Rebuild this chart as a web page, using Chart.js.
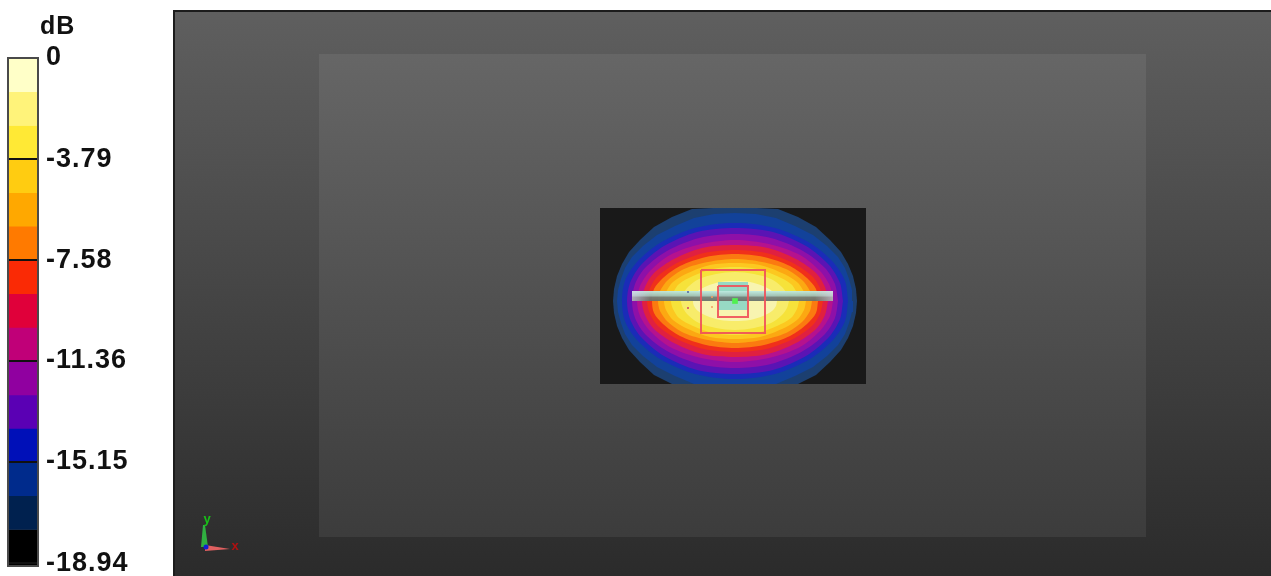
<!DOCTYPE html>
<html>
<head>
<meta charset="utf-8">
<style>
  html, body { margin: 0; padding: 0; background: #fff; overflow: hidden; }
  canvas { position: absolute; display: block; }
  #scale { left: 0; top: 0; }
  #scene { left: 173px; top: 10px; }
</style>
</head>
<body>
<canvas id="scale" width="173" height="576"></canvas>
<canvas id="scene" width="1098" height="566"></canvas>
<script src="https://cdn.jsdelivr.net/npm/chart.js@4"></script>
<script>
// colour scale, dB
const bandEdges = [0, -1.26, -2.53, -3.79, -5.05, -6.31, -7.58, -8.84, -10.10, -11.36, -12.63, -13.89, -15.15, -16.41, -17.68, -19.05];
const bandColors = ["#ffffc8", "#fff37a", "#ffe935", "#ffcc11", "#ffa800", "#ff7a00", "#fa2a05", "#e0003a", "#c00078", "#9000a0", "#5a00b4", "#0010b8", "#002b8c", "#00214f", "#000000"];
const tickValues = [0, -3.79, -7.58, -11.36, -15.15, -18.94];
const tickLabels = ["0", "-3.79", "-7.58", "-11.36", "-15.15", "-18.94"];

// contour quadrants as [dx, dy] from the centre, outermost first
const contourColors = ["#1c3f70", "#12429a", "#1a2cb8", "#5a14b4", "#8e10a8", "#b5128e", "#e02040", "#f0301a", "#fb7a10", "#fca812", "#fcc820", "#f6e23a", "#f8ec6a", "#f8f4b0"];
const contourQuads = [
  [[122, 0], [121, 12], [118, 25], [113, 37], [106, 49], [95, 61], [81, 74], [63, 84], [43, 92], [22, 96], [0, 98]],
  [[118, 0], [117, 11], [114, 22], [110, 33], [103, 44], [92, 55], [78, 66], [60, 75], [41, 83], [21, 87], [0, 88]],
  [[113, 0], [110, 20], [98, 39], [75, 58], [40, 73], [0, 78]],
  [[108, 0], [105, 18], [94, 36], [71, 55], [38, 69], [0, 73]],
  [[103, 0], [100, 17], [90, 33], [68, 50], [36, 63], [0, 67]],
  [[98, 0], [95, 15], [85, 30], [65, 46], [34, 57], [0, 61]],
  [[93, 0], [90, 14], [81, 28], [61, 42], [33, 53], [0, 56]],
  [[88, 0], [85, 13], [77, 25], [58, 38], [31, 48], [0, 51]],
  [[83, 0], [81, 12], [72, 23], [55, 35], [29, 44], [0, 47]],
  [[77, 0], [75, 10], [67, 21], [51, 32], [27, 39], [0, 42]],
  [[71, 0], [69, 9], [62, 19], [47, 28], [25, 36], [0, 38]],
  [[64, 0], [62, 8], [56, 17], [42, 25], [22, 32], [0, 34]],
  [[54, 0], [52, 7], [47, 14], [36, 22], [19, 27], [0, 29]],
  [[42, 0], [41, 5], [37, 10], [28, 15], [15, 19], [0, 20]],
];
const contourCentre = [735, 301];

// scene rectangles as [left, top, right, bottom]
const sceneRect = [173, 10, 1271, 576];
const panelRect = [319, 54, 1146, 537];
const fieldRect = [600, 208, 866, 384];
const barRect = [632, 291, 833, 301];
const barCaps = [[632, 291, 650, 301], [815, 291, 833, 301]];
const tealRect = [718, 282, 748, 310];
const redRects = [[701, 270, 765, 333], [718, 286, 748, 317]];
const probePoints = [[688, 292], [688, 308], [712, 297], [712, 307]];
const probeColors = ["#5060a0", "#d04060", "#f0a060", "#f0a060"];
const feedPoint = [735, 301];

// axis triad
const triadGreen = [[203, 525], [205, 525], [208, 547], [201, 547]];
const triadRed = [[205, 545], [230, 549], [205, 551]];
const triadBlue = [206, 547];
const triadLabels = [["y", 207, 519, "#18c018"], ["x", 235, 546, "#b01010"]];

Chart.defaults.animation = false;
Chart.defaults.font.family = "'Liberation Sans Narrow', 'Liberation Sans', sans-serif";

function rectPoints(r) {
  return [
    { x: r[0], y: r[1] }, { x: r[2], y: r[1] },
    { x: r[2], y: r[3] }, { x: r[0], y: r[3] }, { x: r[0], y: r[1] },
  ];
}

// mirror a quadrant to a whole loop, cut at the field box like the solver plot is
function contourPoints(quad) {
  let pts = [];
  quad.forEach((p) => pts.push([p[0], -p[1]]));
  quad.slice(0, -1).reverse().forEach((p) => pts.push([-p[0], -p[1]]));
  quad.slice(1).forEach((p) => pts.push([-p[0], p[1]]));
  quad.slice(0, -1).reverse().forEach((p) => pts.push([p[0], p[1]]));
  return pts.map((p) => ({
    x: contourCentre[0] + p[0],
    y: Math.min(fieldRect[3], Math.max(fieldRect[1], contourCentre[1] + p[1])),
  }));
}

function vGradient(chart, top, bottom, stops) {
  const y = chart.scales.y;
  const g = chart.ctx.createLinearGradient(0, y.getPixelForValue(top), 0, y.getPixelForValue(bottom));
  stops.forEach((s) => g.addColorStop(s[0], s[1]));
  return g;
}

function hGradient(chart, left, right, stops) {
  const x = chart.scales.x;
  const g = chart.ctx.createLinearGradient(x.getPixelForValue(left), 0, x.getPixelForValue(right), 0);
  stops.forEach((s) => g.addColorStop(s[0], s[1]));
  return g;
}

// fills a dataset's own line as a closed shape
const closedFill = {
  id: "closedFill",
  beforeDatasetDraw(chart, args) {
    const fill = chart.data.datasets[args.index].closedFill;
    if (!fill) return;
    const ctx = chart.ctx;
    const line = args.meta.dataset;
    line.updateControlPoints(chart.chartArea, "x");
    ctx.save();
    ctx.beginPath();
    line.path(ctx);
    ctx.closePath();
    ctx.fillStyle = typeof fill === "function" ? fill(chart) : fill;
    ctx.fill();
    ctx.restore();
  },
};

const triadText = {
  id: "triadText",
  afterDatasetsDraw(chart) {
    const ctx = chart.ctx;
    ctx.save();
    ctx.font = "bold 13px 'Liberation Sans', sans-serif";
    ctx.textAlign = "center";
    ctx.textBaseline = "middle";
    triadLabels.forEach((l) => {
      ctx.fillStyle = l[3];
      ctx.fillText(l[0], chart.scales.x.getPixelForValue(l[1]), chart.scales.y.getPixelForValue(l[2]));
    });
    ctx.restore();
  },
};

const scaleFrame = {
  id: "scaleFrame",
  beforeDraw(chart) {
    chart.ctx.letterSpacing = "1px";
  },
  afterDraw(chart) {
    const ctx = chart.ctx;
    const a = chart.chartArea;
    ctx.save();
    ctx.strokeStyle = "#4a4a4a";
    ctx.lineWidth = 2;
    ctx.strokeRect(a.left, a.top, a.right - a.left, a.bottom - a.top);
    ctx.fillStyle = "#111";
    ctx.font = "bold 25px 'Liberation Sans Narrow', 'Liberation Sans', sans-serif";
    ctx.textBaseline = "middle";
    ctx.fillText("dB", a.right + 2, a.top - 31);
    ctx.restore();
  },
};

new Chart(document.getElementById("scale"), {
  type: "bar",
  data: {
    labels: ["dB"],
    datasets: bandColors.map((color, i) => ({
      data: [[bandEdges[i + 1], bandEdges[i]]],
      backgroundColor: color,
      barPercentage: 1,
      categoryPercentage: 1,
      grouped: false,
    })),
  },
  options: {
    responsive: false,
    layout: { autoPadding: false, padding: { left: 8, top: 58, bottom: 10 } },
    plugins: { legend: { display: false }, tooltip: { enabled: false } },
    scales: {
      x: { display: false },
      y: {
        position: "right",
        min: bandEdges[bandEdges.length - 1],
        max: 0,
        afterBuildTicks: (axis) => { axis.ticks = tickValues.map((value) => ({ value })); },
        afterFit: (axis) => { axis.width = 135; axis.paddingTop = 0; axis.paddingBottom = 0; },
        border: { display: false },
        grid: { color: "#111", lineWidth: 2, drawTicks: false, z: 1 },
        ticks: {
          autoSkip: false,
          padding: 8,
          color: "#111",
          font: { size: 27, weight: "bold" },
          callback: (value, i) => tickLabels[i],
        },
      },
    },
  },
  plugins: [scaleFrame],
});

// later entries draw on top
const shapes = [];
shapes.push({
  data: rectPoints(sceneRect),
  closedFill: (chart) => vGradient(chart, sceneRect[1], sceneRect[3], [[0, "#5f5f5f"], [1, "#2b2b2b"]]),
});
shapes.push({
  data: [{ x: 174, y: sceneRect[3] }, { x: 174, y: 11 }, { x: sceneRect[2], y: 11 }],
  borderColor: "#1c1c1c",
  borderWidth: 2,
});
shapes.push({
  data: rectPoints(panelRect),
  closedFill: (chart) => vGradient(chart, panelRect[1], panelRect[3], [[0, "#666666"], [1, "#3c3c3c"]]),
});
shapes.push({ data: rectPoints(fieldRect), closedFill: "#191919" });
contourQuads.forEach((quad, i) => {
  shapes.push({ data: contourPoints(quad), closedFill: contourColors[i], tension: i < 2 ? 0 : 0.3 });
});
shapes.push({ data: rectPoints(tealRect), closedFill: "rgba(110,205,205,0.7)" });
shapes.push({
  data: rectPoints(barRect),
  closedFill: (chart) => vGradient(chart, barRect[1], barRect[3], [[0, "rgba(190,235,225,0.95)"], [0.45, "rgba(160,195,185,0.95)"], [0.65, "rgba(115,125,120,0.95)"], [1, "rgba(105,113,108,0.95)"]]),
});
shapes.push({
  data: rectPoints(barCaps[0]),
  closedFill: (chart) => hGradient(chart, barCaps[0][0], barCaps[0][2], [[0, "rgba(225,215,240,0.55)"], [1, "rgba(225,215,240,0)"]]),
});
shapes.push({
  data: rectPoints(barCaps[1]),
  closedFill: (chart) => hGradient(chart, barCaps[1][0], barCaps[1][2], [[0, "rgba(225,215,225,0)"], [1, "rgba(225,215,225,0.55)"]]),
});
redRects.forEach((r) => {
  shapes.push({ data: rectPoints(r), borderColor: "rgba(240,80,90,0.9)", borderWidth: 2 });
});
probePoints.forEach((p, i) => {
  shapes.push({ data: [{ x: p[0], y: p[1] }], pointRadius: 1, pointBackgroundColor: probeColors[i], showLine: false });
});
shapes.push({
  data: [{ x: feedPoint[0], y: feedPoint[1] }],
  pointStyle: "rect",
  pointRadius: 4,
  pointBackgroundColor: "#50f050",
  showLine: false,
});
shapes.push({ data: triadGreen.map((p) => ({ x: p[0], y: p[1] })), closedFill: "#30b040" });
shapes.push({ data: triadRed.map((p) => ({ x: p[0], y: p[1] })), closedFill: "#e06060" });
shapes.push({
  data: [{ x: triadBlue[0], y: triadBlue[1] }],
  pointRadius: 2.5,
  pointBackgroundColor: "#1020d0",
  showLine: false,
});

new Chart(document.getElementById("scene"), {
  type: "scatter",
  data: {
    datasets: shapes.map((s, i) => Object.assign({
      showLine: true,
      pointRadius: 0,
      borderWidth: 0,
      tension: 0,
      order: shapes.length - i,
    }, s)),
  },
  options: {
    responsive: false,
    layout: { autoPadding: false },
    plugins: { legend: { display: false }, tooltip: { enabled: false } },
    scales: {
      x: { display: false, min: sceneRect[0], max: sceneRect[2] },
      y: { display: false, min: sceneRect[1], max: sceneRect[3], reverse: true },
    },
  },
  plugins: [closedFill, triadText],
});
</script>
</body>
</html>
